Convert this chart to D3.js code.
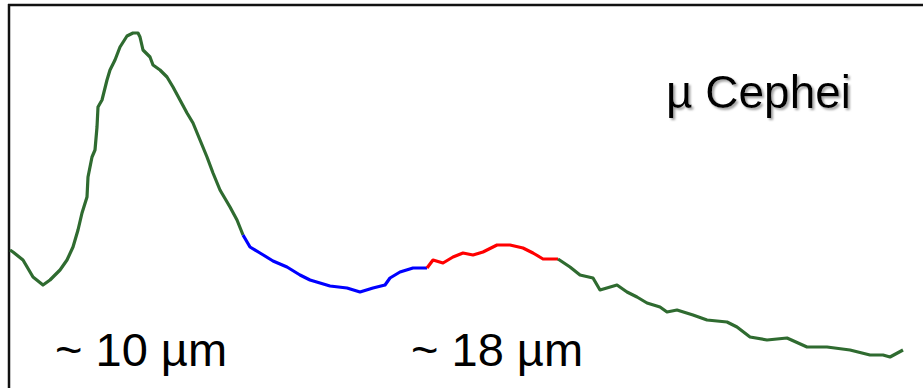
<!DOCTYPE html>
<html>
<head>
<meta charset="utf-8">
<script src="https://cdn.jsdelivr.net/npm/d3@7"></script>
<style>
  body { margin: 0; background: #fff; }
  svg { display: block; }
</style>
</head>
<body>
<script>
// spectrum of mu Cephei, wavelength in micron, relative flux (arbitrary units)
// split in segments: silicate 10 um feature, blue trough, red 18 um feature, tail
const green1Wl = [7.80, 7.86, 8.06, 8.26, 8.46, 8.60, 8.80, 8.94, 9.06, 9.16, 9.24, 9.34, 9.36, 9.44, 9.50, 9.54, 9.56, 9.64, 9.74, 9.80, 9.90, 10.00, 10.14, 10.26, 10.36, 10.40, 10.46, 10.60, 10.66, 10.80, 10.94, 11.06, 11.20, 11.34, 11.46, 11.60, 11.74, 11.86, 12.00, 12.20, 12.34, 12.46]
const green1Flux = [2.60, 2.56, 2.40, 2.06, 1.90, 2.00, 2.20, 2.40, 2.66, 3.00, 3.34, 3.66, 4.06, 4.46, 4.60, 5.06, 5.46, 5.60, 6.00, 6.20, 6.40, 6.66, 6.88, 6.94, 6.94, 6.86, 6.60, 6.46, 6.30, 6.20, 6.06, 5.86, 5.60, 5.34, 5.14, 4.80, 4.46, 4.14, 3.80, 3.46, 3.20, 2.90]

const blueWl = [12.46, 12.60, 12.80, 13.06, 13.34, 13.60, 13.80, 14.20, 14.54, 14.80, 15.06, 15.30, 15.40, 15.60, 15.86, 16.14]
const blueFlux = [2.90, 2.66, 2.54, 2.38, 2.26, 2.10, 2.00, 1.88, 1.84, 1.76, 1.84, 1.90, 2.04, 2.16, 2.24, 2.24]

const redWl = [16.14, 16.26, 16.46, 16.66, 16.86, 17.06, 17.26, 17.54, 17.80, 18.06, 18.26, 18.46, 18.76]
const redFlux = [2.24, 2.40, 2.34, 2.46, 2.54, 2.50, 2.56, 2.70, 2.70, 2.64, 2.54, 2.42, 2.42]

const green2Wl = [18.76, 19.00, 19.20, 19.46, 19.60, 19.94, 20.14, 20.34, 20.54, 20.80, 20.94, 21.14, 21.46, 21.74, 22.14, 22.34, 22.60, 22.94, 23.34, 23.74, 24.14, 24.60, 25.00, 25.26, 25.40, 25.66]
const green2Flux = [2.42, 2.26, 2.10, 2.04, 1.80, 1.90, 1.76, 1.66, 1.54, 1.46, 1.36, 1.40, 1.30, 1.20, 1.16, 1.06, 0.86, 0.80, 0.84, 0.66, 0.66, 0.60, 0.50, 0.50, 0.46, 0.60]

const labels = ['~ 10 µm', '~ 18 µm']
const starName = 'µ Cephei'

const m = { width: 923, height: 388 }

const svg = d3.select('body').append('svg')
    .attr('width', m.width)
    .attr('height', m.height)

// drop shadow for the star name
const shadow = svg.append('defs').append('filter')
    .attr('id', 'shadow')
    .attr('x', '-10%').attr('y', '-20%')
    .attr('width', '130%').attr('height', '150%')
shadow.append('feDropShadow')
    .attr('dx', 2).attr('dy', 2)
    .attr('stdDeviation', 0.8)
    .attr('flood-color', '#999')
    .attr('flood-opacity', 0.9)

const x = d3.scaleLinear().domain([7.8, 25.74]).range([10, 907])
const y = d3.scaleLinear().domain([0, 7]).range([380, 30])

// frame (only top and left edges show in the crop)
svg.append('line')
    .attr('x1', 8).attr('x2', m.width)
    .attr('y1', 5).attr('y2', 5)
    .attr('stroke', '#111').attr('stroke-width', 2.5)
svg.append('line')
    .attr('x1', 9).attr('x2', 9)
    .attr('y1', 4).attr('y2', m.height)
    .attr('stroke', '#111').attr('stroke-width', 2.5)

const line = d3.line()
    .x(d => x(d[0]))
    .y(d => y(d[1]))

const segments = [
    { wl: green1Wl, flux: green1Flux, color: '#2f6b30' },
    { wl: blueWl, flux: blueFlux, color: '#0000ff' },
    { wl: redWl, flux: redFlux, color: '#ff0000' },
    { wl: green2Wl, flux: green2Flux, color: '#2f6b30' }
]

svg.selectAll('.seg')
    .data(segments)
    .enter()
    .append('path')
    .attr('class', 'seg')
    .attr('fill', 'none')
    .attr('stroke', d => d.color)
    .attr('stroke-width', 3.2)
    .attr('stroke-linejoin', 'round')
    .attr('d', d => line(d3.zip(d.wl, d.flux)))

// feature labels under the curve
svg.selectAll('.lbl')
    .data(labels)
    .enter()
    .append('text')
    .attr('class', 'lbl')
    .attr('x', (d, i) => [55, 411][i])
    .attr('y', 366)
    .attr('font-family', 'Liberation Sans, Arial, sans-serif')
    .attr('font-size', 47)
    .attr('fill', '#000')
    .attr('xml:space', 'preserve')
    .text(d => d)

// star name
svg.append('text')
    .attr('x', 666).attr('y', 108)
    .attr('font-family', 'Liberation Sans, Arial, sans-serif')
    .attr('font-size', 46)
    .attr('fill', '#000')
    .attr('filter', 'url(#shadow)')
    .text(starName)
</script>
</body>
</html>
